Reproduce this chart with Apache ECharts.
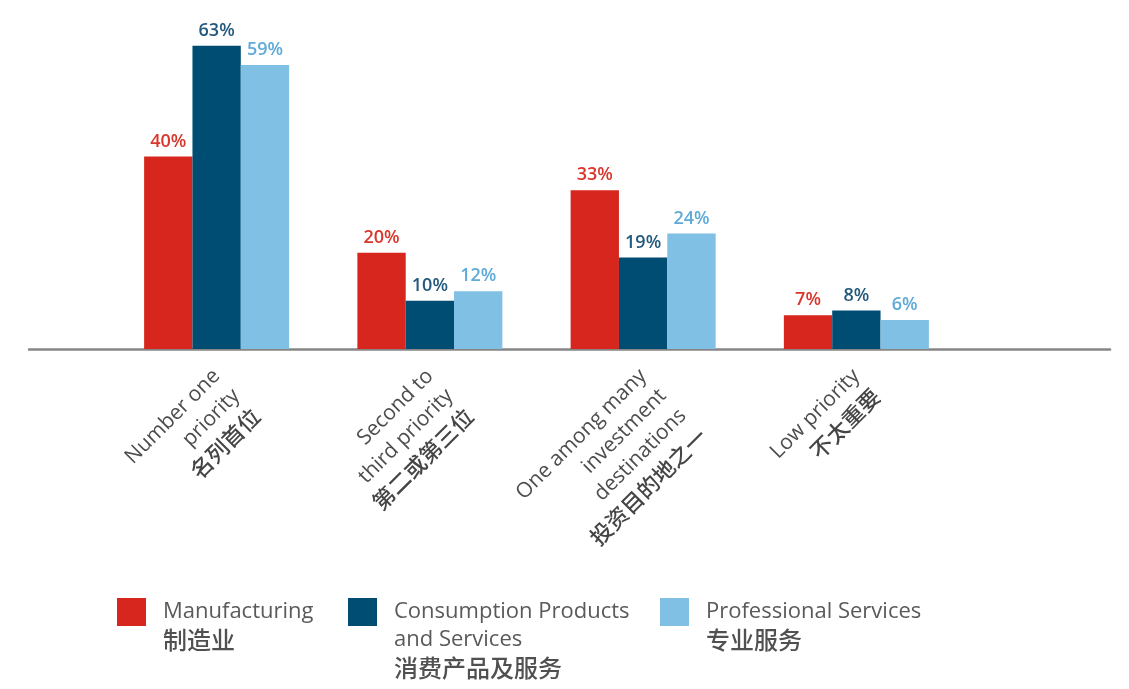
<!DOCTYPE html>
<html>
<head>
<meta charset="utf-8">
<script src="https://cdn.jsdelivr.net/npm/echarts@6/dist/echarts.min.js"></script>
<style>
  html, body { margin: 0; padding: 0; background: #ffffff; }
  #chart { width: 1129px; height: 689px; }
</style>
</head>
<body>
<div id="chart"></div>
<script>
// Category labels, one entry per line of the rotated label
const categories = [
  ['Number one', 'priority', '名列首位'],
  ['Second to', 'third priority', '第二或第三位'],
  ['One among many', 'investment', 'destinations', '投资目的地之一'],
  ['Low priority', '不太重要']
];

// Series names (English / Chinese lines)
const seriesNames = [
  ['Manufacturing', '制造业'],
  ['Consumption Products', 'and Services', '消费产品及服务'],
  ['Professional Services', '专业服务']
];

// Share of respondents, in percent
const manufacturing = [40, 20, 33, 7];
const consumption = [63, 10, 19, 8];
const professional = [59, 12, 24, 6];

const barColors = ['#d6261d', '#004d74', '#7fc0e4'];
const labelColors = ['#d9362c', '#245a7d', '#5eabd9'];
const FONT = '"Open Sans", "Noto Sans CJK SC", sans-serif';
const CJK = '"Noto Sans CJK SC", sans-serif';
const isCJK = s => /[\u4e00-\u9fff]/.test(s);

const chart = echarts.init(document.getElementById('chart'), null, { renderer: 'canvas' });

const names = seriesNames.map(n => n.join('\n'));
const values = [manufacturing, consumption, professional];

const LEG_LH = 28;
const LEG_ICON_H = 28;
const legendLeft = [117, 348, 660];
const legendTop = [582, 568, 582];

// rich-text lines: English lines and Chinese lines use different faces
const toRich = lines => lines.map(s => (isCJK(s) ? '{z|' : '{e|') + s + '}').join('\n');

const option = {
  backgroundColor: '#ffffff',
  animation: false,
  grid: [
    { left: 110, width: 853, top: 12, bottom: 340 },
    { left: 29, right: 19, top: 12, bottom: 340 }
  ],
  xAxis: [
    {
      type: 'category',
      gridIndex: 0,
      data: categories.map(c => c.join('\n')),
      axisLine: { show: false },
      axisTick: { show: false },
      axisLabel: {
        interval: 0,
        rotate: 45,
        align: 'right',
        verticalAlign: 'top',
        margin: 4,
        padding: [0, 14, 0, 0],
        lineHeight: 28,
        formatter: v => toRich(v.split('\n')),
        rich: {
          e: { fontFamily: FONT, fontSize: 21, color: '#4d4d4d', lineHeight: 28 },
          z: { fontFamily: CJK, fontSize: 22, fontWeight: 500, color: '#454545', lineHeight: 28 }
        }
      }
    },
    {
      type: 'value',
      gridIndex: 1,
      min: 0,
      max: 1,
      axisLine: { show: true, lineStyle: { color: '#868686', width: 2.5 } },
      axisTick: { show: false },
      axisLabel: { show: false },
      splitLine: { show: false }
    }
  ],
  yAxis: [
    { type: 'value', gridIndex: 0, min: 0, max: 70, show: false },
    { type: 'value', gridIndex: 1, min: 0, max: 1, show: false }
  ],
  legend: names.map((name, i) => {
    const lines = seriesNames[i];
    // spacer above the text so that the first line sits level with the swatch
    const spacer = (lines.length - 1) * LEG_LH;
    return {
      data: [name],
      left: legendLeft[i],
      top: legendTop[i],
      padding: 0,
      icon: 'rect',
      itemWidth: 29,
      itemHeight: LEG_ICON_H,
      selectedMode: false,
      formatter: () => '{s| }\n' + toRich(lines),
      textStyle: {
        padding: [0, 0, 0, 12],
        rich: {
          s: { fontSize: 4, lineHeight: spacer },
          e: { fontFamily: FONT, fontSize: 22, color: '#5a5a5a', lineHeight: LEG_LH },
          z: { fontFamily: CJK, fontSize: 24, fontWeight: 500, color: '#505050', lineHeight: LEG_LH }
        }
      }
    };
  }),
  series: names.map((name, i) => ({
    name: name,
    type: 'bar',
    xAxisIndex: 0,
    yAxisIndex: 0,
    data: values[i],
    barGap: '0%',
    barCategoryGap: '32%',
    itemStyle: { color: barColors[i] },
    label: {
      show: true,
      position: 'top',
      distance: 6,
      formatter: '{c}%',
      fontFamily: FONT,
      fontWeight: 600,
      fontSize: 18,
      color: labelColors[i]
    }
  }))
};

chart.setOption(option);
</script>
</body>
</html>
